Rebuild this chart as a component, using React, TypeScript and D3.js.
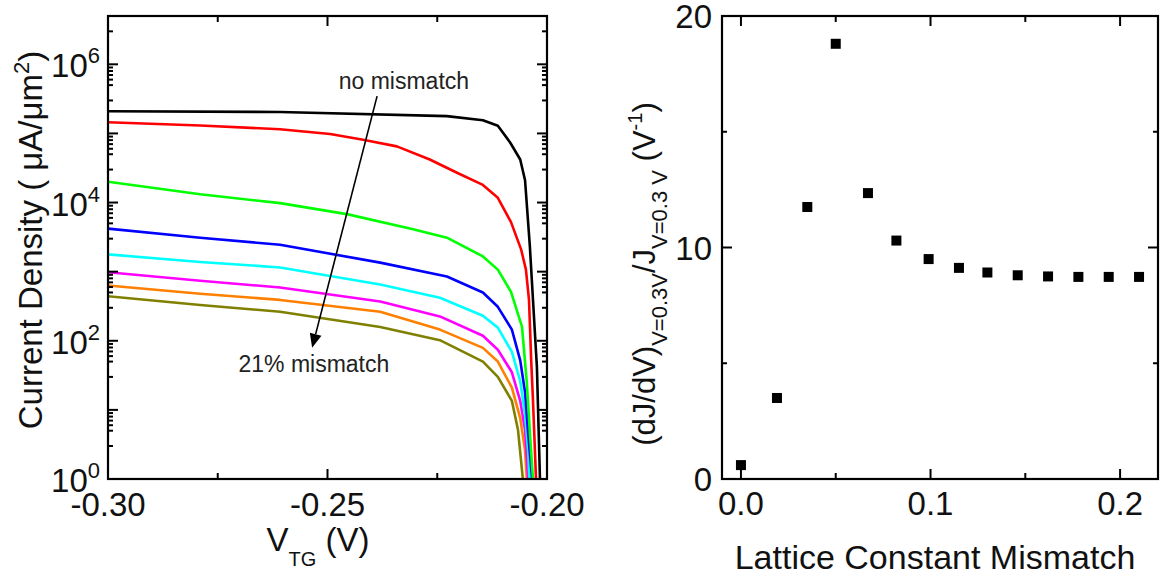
import React from 'react';
import * as d3 from 'd3';

const W = 1161;
const H = 577;
const FONT = '"Liberation Sans", Arial, Helvetica, sans-serif';

// ---------- Left panel: J–V curves for increasing lattice mismatch ----------
type Pt = [number, number];
const curveBlack: Pt[] = [[-0.300, 2.09e5], [-0.2608, 2.04e5], [-0.2228, 1.78e5], [-0.2146, 1.55e5], [-0.2112, 1.29e5], [-0.2084, 7.4e4], [-0.2061, 4.2e4], [-0.2050, 2.1e4], [-0.2039, 2.3e3], [-0.2023, 42], [-0.2016, 1]];
const curveRed: Pt[] = [[-0.300, 1.45e5], [-0.2790, 1.3e5], [-0.2608, 1.15e5], [-0.2494, 9.8e4], [-0.2419, 8.1e4], [-0.2342, 6.5e4], [-0.2267, 4.2e4], [-0.2205, 2.7e4], [-0.2146, 1.8e4], [-0.2112, 1.17e4], [-0.2082, 5.2e3], [-0.2059, 2.1e3], [-0.2048, 1.07e3], [-0.2041, 390], [-0.2036, 52], [-0.2032, 14], [-0.2025, 1]];
const curveGreen: Pt[] = [[-0.300, 2.0e4], [-0.2790, 1.32e4], [-0.2608, 9.8e3], [-0.2456, 6.8e3], [-0.2305, 4.1e3], [-0.2228, 3.1e3], [-0.2146, 1.66e3], [-0.2112, 1.07e3], [-0.2082, 510], [-0.2057, 160], [-0.2046, 25], [-0.2039, 4.7], [-0.2032, 1]];
const curveBlue: Pt[] = [[-0.300, 4.2e3], [-0.2790, 3.1e3], [-0.2608, 2.45e3], [-0.2380, 1.35e3], [-0.2228, 850], [-0.2146, 500], [-0.2112, 310], [-0.2080, 145], [-0.2061, 52], [-0.2050, 18], [-0.2043, 4.7], [-0.2034, 1]];
const curveCyan: Pt[] = [[-0.300, 1.78e3], [-0.2790, 1.38e3], [-0.2608, 1.15e3], [-0.2380, 650], [-0.2244, 420], [-0.2146, 230], [-0.2112, 155], [-0.2080, 69], [-0.2061, 26], [-0.2050, 8.5], [-0.2043, 2.6], [-0.2040, 1]];
const curveMagenta: Pt[] = [[-0.300, 980], [-0.2790, 740], [-0.2608, 590], [-0.2380, 370], [-0.2244, 225], [-0.2146, 118], [-0.2112, 74], [-0.2080, 35], [-0.2061, 13.5], [-0.2050, 5.1], [-0.2043, 1]];
const curveOrange: Pt[] = [[-0.300, 630], [-0.2790, 480], [-0.2608, 390], [-0.2380, 263], [-0.2244, 145], [-0.2146, 79], [-0.2112, 50], [-0.2080, 21], [-0.2061, 7.6], [-0.2050, 2.6], [-0.2046, 1]];
const curveOlive: Pt[] = [[-0.300, 440], [-0.2790, 330], [-0.2608, 263], [-0.2380, 158], [-0.2244, 102], [-0.2146, 50], [-0.2112, 30], [-0.2080, 13.5], [-0.2066, 5.1], [-0.2055, 1]];

const leftCurves: Pt[][] = [curveOlive, curveOrange, curveMagenta, curveCyan, curveBlue, curveGreen, curveRed, curveBlack];
const leftColors = ['#808000', '#ff8000', '#ff00ff', '#00ffff', '#0000ff', '#00ff00', '#ff0000', '#000000'];

const leftXDomain: [number, number] = [-0.30, -0.20];
const leftYDomain: [number, number] = [1, 5e6];
const leftXMajor = [-0.30, -0.25, -0.20];
const leftXMinor = [-0.275, -0.225];
const leftXLabels = ['-0.30', '-0.25', '-0.20'];
const leftYDecades = [0, 1, 2, 3, 4, 5, 6];
const leftYLabelExps = [0, 2, 4, 6];
const leftYMinorMult = [3, 5, 6, 7, 8, 9];

// annotation anchors (data coordinates)
const arrowFrom: Pt = [-0.2387, Math.pow(10, 5.54)];
const arrowTo: Pt = [-0.2535, Math.pow(10, 1.90)];
const noMismatchPos: Pt = [-0.2326, Math.pow(10, 5.64)];
const fullMismatchPos: Pt = [-0.2531, Math.pow(10, 1.55)];

// ---------- Right panel: normalized slope vs lattice mismatch ----------
const mismatch = [0.0, 0.019, 0.035, 0.050, 0.067, 0.082, 0.099, 0.115, 0.130, 0.146, 0.162, 0.178, 0.194, 0.210];
const slopeRatio = [0.6, 3.5, 11.75, 18.8, 12.35, 10.3, 9.5, 9.12, 8.92, 8.8, 8.75, 8.73, 8.73, 8.73];

const rightXDomain: [number, number] = [-0.01, 0.22];
const rightYDomain: [number, number] = [0, 20];
const rightXMajor = [0, 0.1, 0.2];
const rightXLabels = ['0.0', '0.1', '0.2'];
const rightXMinor = [0.05, 0.15];
const rightYMajor = [0, 10, 20];
const rightYMinor = [5, 15];

// ---------- layout ----------
const L = { left: 108, right: 547, top: 16, bottom: 479 };
const R = { left: 722, right: 1158, top: 16, bottom: 479 };
const MAJ = 10;
const MIN = 5;

export default function App() {
  const lx = d3.scaleLinear().domain(leftXDomain).range([L.left, L.right]);
  const ly = d3.scaleLog().domain(leftYDomain).range([L.bottom, L.top]);
  const rx = d3.scaleLinear().domain(rightXDomain).range([R.left, R.right]);
  const ry = d3.scaleLinear().domain(rightYDomain).range([R.bottom, R.top]);

  const line = d3.line<Pt>().x(d => lx(d[0])).y(d => ly(d[1])).curve(d3.curveLinear);

  const ticks: JSX.Element[] = [];
  let k = 0;
  const tick = (x1: number, y1: number, x2: number, y2: number) => {
    ticks.push(<line key={'t' + k++} x1={x1} y1={y1} x2={x2} y2={y2} stroke="#000" strokeWidth={2} />);
  };

  // left panel ticks
  leftXMajor.forEach(v => { const x = lx(v); tick(x, L.bottom, x, L.bottom - MAJ); tick(x, L.top, x, L.top + MAJ); });
  leftXMinor.forEach(v => { const x = lx(v); tick(x, L.bottom, x, L.bottom - 6); tick(x, L.top, x, L.top + 6); });
  leftYDecades.forEach(e => {
    const y = ly(Math.pow(10, e));
    tick(L.left, y, L.left + MAJ, y); tick(L.right, y, L.right - MAJ, y);
    leftYMinorMult.forEach(m => {
      const v = m * Math.pow(10, e);
      if (v > leftYDomain[1]) return;
      const yy = ly(v);
      tick(L.left, yy, L.left + MIN, yy); tick(L.right, yy, L.right - MIN, yy);
    });
  });

  // right panel ticks
  rightXMajor.forEach(v => { const x = rx(v); tick(x, R.bottom, x, R.bottom - MAJ); tick(x, R.top, x, R.top + MAJ); });
  rightXMinor.forEach(v => { const x = rx(v); tick(x, R.bottom, x, R.bottom - 6); tick(x, R.top, x, R.top + 6); });
  rightYMajor.forEach(v => { const y = ry(v); tick(R.left, y, R.left + MAJ, y); tick(R.right, y, R.right - MAJ, y); });
  rightYMinor.forEach(v => { const y = ry(v); tick(R.left, y, R.left + MIN, y); tick(R.right, y, R.right - MIN, y); });

  // arrow
  const ax1 = lx(arrowFrom[0]), ay1 = ly(arrowFrom[1]);
  const ax2 = lx(arrowTo[0]), ay2 = ly(arrowTo[1]);
  const ang = Math.atan2(ay2 - ay1, ax2 - ax1);
  const hl = 14, hw = 6;
  const bx = ax2 - hl * Math.cos(ang), by = ay2 - hl * Math.sin(ang);
  const head = [
    [ax2, ay2],
    [bx + hw * Math.sin(ang), by - hw * Math.cos(ang)],
    [bx - hw * Math.sin(ang), by + hw * Math.cos(ang)],
  ].map(p => p.join(',')).join(' ');

  const big = 33;
  const small = 22;

  return (
    <svg width={W} height={H} style={{ position: 'absolute', left: 0, top: 0, background: '#fff' }} fontFamily={FONT}>
      <rect x={0} y={0} width={W} height={H} fill="#fff" />
      <defs>
        <clipPath id="clipL"><rect x={L.left} y={L.top} width={L.right - L.left} height={L.bottom - L.top} /></clipPath>
      </defs>

      {/* left curves */}
      <g clipPath="url(#clipL)">
        {leftCurves.map((c, i) => (
          <path key={i} d={line(c) || ''} fill="none" stroke={leftColors[i]} strokeWidth={2.6} strokeLinejoin="round" />
        ))}
      </g>

      {/* annotations */}
      <line x1={ax1} y1={ay1} x2={bx} y2={by} stroke="#000" strokeWidth={1.6} />
      <polygon points={head} fill="#000" />
      <text x={lx(noMismatchPos[0])} y={ly(noMismatchPos[1])} fontSize={23} textAnchor="middle" fill="#222">no mismatch</text>
      <text x={lx(fullMismatchPos[0])} y={ly(fullMismatchPos[1])} fontSize={23} textAnchor="middle" fill="#222">21% mismatch</text>

      {/* right markers */}
      {mismatch.map((m, i) => (
        <rect key={'m' + i} x={rx(m) - 5} y={ry(slopeRatio[i]) - 5} width={10} height={10} fill="#000" />
      ))}

      {/* frames */}
      <rect x={L.left} y={L.top} width={L.right - L.left} height={L.bottom - L.top} fill="none" stroke="#000" strokeWidth={2.2} />
      <rect x={R.left} y={R.top} width={R.right - R.left} height={R.bottom - R.top} fill="none" stroke="#000" strokeWidth={2.2} />
      {ticks}

      {/* left tick labels */}
      {leftXMajor.map((v, i) => (
        <text key={'lxl' + i} x={lx(v)} y={L.bottom + 37} fontSize={big} textAnchor="middle" fill="#111">{leftXLabels[i]}</text>
      ))}
      {leftYLabelExps.map(e => (
        <text key={'lyl' + e} x={L.left - 8} y={ly(Math.pow(10, e)) + 13} fontSize={big} textAnchor="end" fill="#111">
          10<tspan fontSize={small} dy={-14}>{e}</tspan>
        </text>
      ))}

      {/* right tick labels */}
      {rightXMajor.map((v, i) => (
        <text key={'rxl' + i} x={rx(v)} y={R.bottom + 36} fontSize={big} textAnchor="middle" fill="#111">{rightXLabels[i]}</text>
      ))}
      {rightYMajor.map(v => (
        <text key={'ryl' + v} x={R.left - 10} y={ry(v) + 12} fontSize={big} textAnchor="end" fill="#111">{v}</text>
      ))}

      {/* axis titles */}
      <text x={318} y={551} fontSize={big} textAnchor="middle" fill="#111">
        V<tspan fontSize={20} dy={15}>TG</tspan><tspan dy={-15}> (V)</tspan>
      </text>
      <text x={935} y={569} fontSize={34} textAnchor="middle" fill="#111">Lattice Constant Mismatch</text>
      <text transform="translate(42,240) rotate(-90)" fontSize={big} textAnchor="middle" fill="#111">
        Current Density ( μA/μm<tspan fontSize={small} dy={-13}>2</tspan><tspan dy={13}>)</tspan>
      </text>
      <text transform="translate(655,274) rotate(-90)" fontSize={31} textAnchor="middle" fill="#111">
        (dJ/dV)<tspan fontSize={22} dy={12}>V=0.3V</tspan><tspan dy={-12}>/J</tspan><tspan fontSize={22} dy={12}>V=0.3 V</tspan><tspan dy={-12}> (V</tspan><tspan fontSize={20} dy={-13}>-1</tspan><tspan dy={13}>)</tspan>
      </text>
    </svg>
  );
}
